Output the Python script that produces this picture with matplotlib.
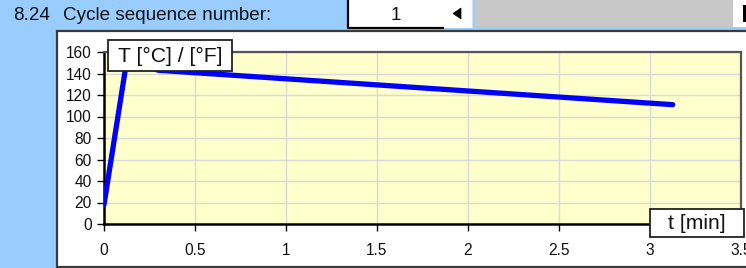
import matplotlib
matplotlib.use("Agg")
import matplotlib.pyplot as plt
from matplotlib.patches import Rectangle, Polygon

# ---- data ----
time_min = [0.0, 0.125, 0.3, 3.125]
temp = [18, 152, 143, 111]
x_ticks = [0, 0.5, 1, 1.5, 2, 2.5, 3, 3.5]
x_tick_labels = ["0", "0.5", "1", "1.5", "2", "2.5", "3", "3.5"]
y_ticks = [0, 20, 40, 60, 80, 100, 120, 140, 160]
y_tick_labels = [str(v) for v in y_ticks]
header_label = "8.24"
header_text = "Cycle sequence number:"
cycle_value = "1"
y_title = "T [°C] / [°F]"
x_title = "t [min]"

FONT = ["Liberation Sans", "DejaVu Sans"]
plt.rcParams['font.family'] = FONT

W, H = 746, 268
fig = plt.figure(figsize=(W / 100, H / 100), dpi=100, facecolor="#99CCFF")

# background layer in pixel coordinates
bg = fig.add_axes([0, 0, 1, 1], zorder=0)
bg.set_xlim(0, W)
bg.set_ylim(H, 0)
bg.axis("off")
bg.patch.set_alpha(0)

# white chart frame
bg.add_patch(Rectangle((57, 30.5), W - 57 + 5, 236.5, facecolor="white",
                       edgecolor="#3a3a3a", linewidth=1.6))
# header widgets
bg.add_patch(Rectangle((347, -2), 97, 30, facecolor="white", edgecolor="none"))
bg.plot([347.5, 347.5, 444], [-2, 28, 28], color="black", lw=1.6, solid_capstyle="butt")
bg.add_patch(Rectangle((444, -2), 29, 30, facecolor="white", edgecolor="none"))
bg.add_patch(Polygon([[453, 13.5], [461, 8], [461, 19]], closed=True,
                     facecolor="black", edgecolor="black", lw=0.5))
bg.plot([472, 472], [0, 27], color="#dddddd", lw=1)
bg.add_patch(Rectangle((475, -2), 258, 29, facecolor="#C8C8C8", edgecolor="none"))
bg.add_patch(Rectangle((733, -2), 20, 29, facecolor="white", edgecolor="none"))
bg.add_patch(Rectangle((743, 5), 5, 17, facecolor="black", edgecolor="none"))
bg.text(13, 15.5, header_label, fontsize=13.6, ha="left", va="center", color="#111111")
bg.text(63, 15.5, header_text, fontsize=13.6, ha="left", va="center", color="#111111")
bg.text(396, 15.5, cycle_value, fontsize=13.6, ha="center", va="center", color="#111111")

# plot area
x0, x1 = 104, 741
y0, y1 = 224, 52
ax = fig.add_axes([x0 / W, (H - y0) / H, (x1 - x0) / W, (y0 - y1) / H], zorder=2)
ax.set_facecolor("#FFFFCC")
ax.plot(time_min, temp, color="#0000FF", lw=3.8, solid_capstyle="round",
        solid_joinstyle="round", zorder=3)
ax.set_xlim(0, 3.5)
ax.set_ylim(0, 160)
ax.set_xticks(x_ticks)
ax.set_xticklabels(x_tick_labels)
ax.set_yticks(y_ticks)
ax.set_yticklabels(y_tick_labels)
ax.grid(True, color="#D9D9D9", lw=1)
ax.set_axisbelow(True)
ax.tick_params(axis="both", direction="out", length=5, width=1, colors="black",
               labelsize=11.2, labelcolor="#111111")
ax.tick_params(axis="x", pad=9)
ax.tick_params(axis="y", pad=4)
for s in ("left", "bottom"):
    ax.spines[s].set_color("black")
    ax.spines[s].set_linewidth(1.8)
for s in ("top", "right"):
    ax.spines[s].set_color("#555555")
    ax.spines[s].set_linewidth(1.6)

# overlay layer for label boxes
ov = fig.add_axes([0, 0, 1, 1], zorder=5)
ov.set_xlim(0, W)
ov.set_ylim(H, 0)
ov.axis("off")
ov.patch.set_alpha(0)
ov.add_patch(Rectangle((108, 40), 124, 31, facecolor="white", edgecolor="#222222", lw=1.3))
ov.text(170, 56, y_title, fontsize=15.2, ha="center", va="center", color="#111111")
ov.add_patch(Rectangle((650, 209), 94, 28, facecolor="white", edgecolor="#222222", lw=1.3))
ov.text(697, 223.5, x_title, fontsize=15.2, ha="center", va="center", color="#111111")

fig.savefig("out.png", dpi=100, facecolor=fig.get_facecolor())
